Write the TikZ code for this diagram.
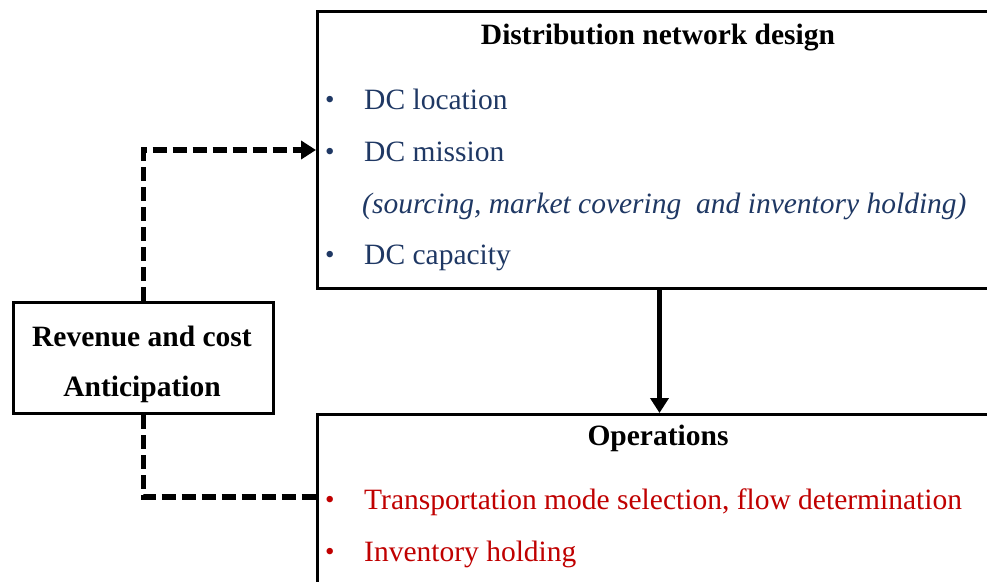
\documentclass[tikz,border=0pt]{standalone}
\usepackage{fontspec}
\setmainfont{Liberation Serif}
\usetikzlibrary{arrows.meta}
\definecolor{navy}{HTML}{1F3864}
\definecolor{dred}{HTML}{C00000}
\begin{document}
\begin{tikzpicture}[x=1pt,y=-1pt,
  box/.style={draw=black, line width=3pt, fill=white, inner sep=0pt, rectangle},
  txt/.style={anchor=base west, font=\fontsize{29.5}{34}\selectfont, inner sep=0pt},
  bul/.style={anchor=base west, font=\fontsize{27}{30}\selectfont, inner sep=0pt},
  ttl/.style={anchor=base, font=\fontsize{29.5}{34}\selectfont\bfseries, inner sep=0pt},
  solidarrow/.style={line width=5pt, -{Triangle[length=15pt,width=18pt]}},
  dashline/.style={line width=5.5pt, dash pattern=on 14pt off 6pt},
  dasharrow/.style={dashline, -{Triangle[length=15pt,width=18pt]}}
]
\useasboundingbox (0,0) rectangle (987,581);
\clip (0,0) rectangle (987,581);
\fill[white] (0,0) rectangle (987,581);

% boxes
\node[box, minimum width=684pt, minimum height=277pt, anchor=north west] (dnd) at (316,10) {};
\node[box, minimum width=684pt, minimum height=220pt, anchor=north west] (ops) at (316,413) {};
\node[box, minimum width=260pt, minimum height=111pt, anchor=north west] (rev) at (12,301) {};

% top box text
\node[ttl] (dndt) at (658,44) {Distribution network design};
\node[bul, text=navy] (b1) at (325,108) {•};
\node[txt, text=navy] (l1) at (364,109) {DC location};
\node[bul, text=navy] (b2) at (325,160) {•};
\node[txt, text=navy] (l2) at (364,161) {DC mission};
\node[txt, text=navy, font=\fontsize{29.5}{34}\selectfont\itshape] (l3) at (362,213) {(sourcing, market covering\ \ and inventory holding)};
\node[bul, text=navy] (b4) at (325,263) {•};
\node[txt, text=navy] (l4) at (364,264) {DC capacity};

% bottom box text
\node[ttl] (opst) at (658,445) {Operations};
\node[bul, text=dred] (r1b) at (325,508) {•};
\node[txt, text=dred] (r1) at (364,509) {Transportation mode selection, flow determination};
\node[bul, text=dred] (r2b) at (325,560) {•};
\node[txt, text=dred] (r2) at (364,561) {Inventory holding};

% left box text
\node[ttl] (revt1) at (142,346) {Revenue and cost};
\node[ttl] (revt2) at (142,396) {Anticipation};

% connectors
\draw[solidarrow] (dnd.south) -- (ops.north);
\draw[dasharrow] (rev.north) |- (dnd.west);
\coordinate (opsin) at (ops.north west |- 0,497);
\draw[dashline] (rev.south) |- (opsin);
\end{tikzpicture}
\end{document}
